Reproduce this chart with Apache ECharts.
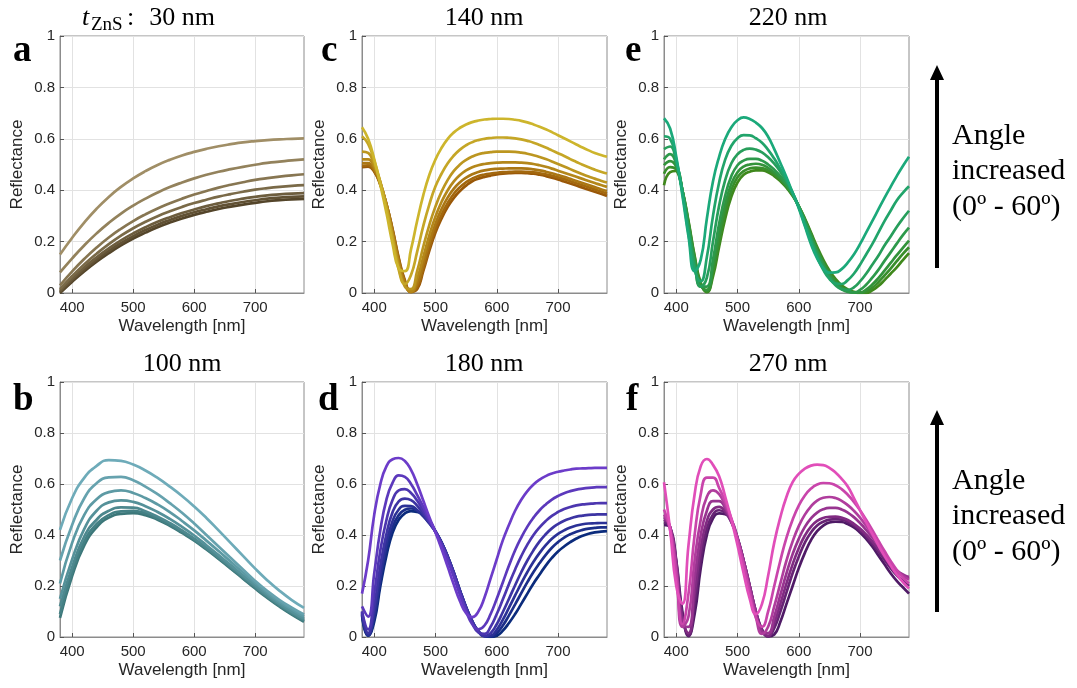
<!DOCTYPE html>
<html>
<head>
<meta charset="utf-8">
<script src="https://cdn.jsdelivr.net/npm/echarts@6/dist/echarts.min.js"></script>
<style>
html,body{margin:0;padding:0;background:#fff;}
#chart{width:1077px;height:688px;}
</style>
</head>
<body>
<div id="chart"></div>
<script>
// ---------- DATA ----------
const angles = ['0°','10°','20°','30°','40°','50°','60°'];
const wlCoarse = [380,400,420,440,460,480,500,520,540,560,580,600,620,640,660,680,700,720,740,760,780];
const wlFine = [380,390,400,410,420,430,440,450,460,470,480,490,500,510,520,530,540,550,560,570,580,590,600,610,620,630,640,650,660,670,680,690,700,710,720,730,740,750,760,770,780];
const xTickValues = [400,500,600,700];
const panelTitles = ['30 nm','100 nm','140 nm','180 nm','220 nm','270 nm'];
const panelLetters = ['a','b','c','d','e','f'];

// a: t = 30 nm (rows: 0°..60°) on wlCoarse
const refl30 = [
 [0.0,0.044,0.085,0.122,0.155,0.185,0.212,0.235,0.256,0.274,0.29,0.304,0.316,0.327,0.336,0.344,0.351,0.357,0.361,0.364,0.366],
 [0.004,0.05,0.092,0.13,0.164,0.194,0.221,0.245,0.266,0.284,0.3,0.314,0.326,0.337,0.346,0.354,0.361,0.367,0.371,0.374,0.376],
 [0.008,0.056,0.1,0.139,0.174,0.205,0.232,0.256,0.277,0.295,0.311,0.325,0.338,0.349,0.359,0.367,0.374,0.38,0.384,0.387,0.389],
 [0.015,0.066,0.112,0.153,0.19,0.223,0.252,0.277,0.299,0.318,0.335,0.35,0.363,0.375,0.385,0.394,0.402,0.408,0.413,0.417,0.42],
 [0.03,0.084,0.133,0.177,0.216,0.25,0.28,0.306,0.329,0.349,0.367,0.383,0.397,0.41,0.421,0.431,0.44,0.447,0.453,0.458,0.462],
 [0.08,0.135,0.186,0.232,0.273,0.309,0.34,0.367,0.391,0.412,0.43,0.446,0.46,0.472,0.482,0.491,0.499,0.506,0.511,0.516,0.52],
 [0.15,0.215,0.275,0.328,0.374,0.413,0.446,0.474,0.498,0.518,0.535,0.549,0.561,0.571,0.579,0.586,0.591,0.595,0.598,0.6,0.602]
];
// b: t = 100 nm on wlCoarse
const refl100 = [
 [0.075,0.24,0.36,0.43,0.468,0.483,0.486,0.478,0.46,0.436,0.408,0.378,0.343,0.306,0.268,0.229,0.19,0.153,0.119,0.088,0.06],
 [0.09,0.255,0.375,0.443,0.478,0.493,0.495,0.485,0.465,0.44,0.412,0.381,0.346,0.309,0.271,0.232,0.193,0.156,0.122,0.091,0.063],
 [0.12,0.275,0.395,0.46,0.495,0.508,0.507,0.493,0.472,0.447,0.418,0.386,0.35,0.313,0.275,0.236,0.197,0.16,0.126,0.095,0.067],
 [0.15,0.305,0.425,0.495,0.528,0.536,0.53,0.513,0.49,0.463,0.432,0.398,0.36,0.321,0.282,0.242,0.203,0.165,0.131,0.1,0.072],
 [0.21,0.37,0.48,0.54,0.568,0.575,0.565,0.545,0.52,0.49,0.455,0.418,0.378,0.337,0.295,0.253,0.212,0.173,0.138,0.108,0.08],
 [0.30,0.44,0.545,0.603,0.626,0.628,0.615,0.59,0.56,0.525,0.487,0.445,0.40,0.355,0.31,0.265,0.22,0.18,0.145,0.115,0.088],
 [0.42,0.545,0.625,0.671,0.694,0.691,0.676,0.653,0.624,0.59,0.553,0.512,0.467,0.418,0.368,0.318,0.268,0.222,0.181,0.145,0.114]
];
// c: t = 140 nm on wlFine
const refl140 = [
 [0.49,0.492,0.472,0.42,0.345,0.248,0.137,0.05,0.006,0.015,0.085,0.165,0.235,0.29,0.335,0.37,0.397,0.418,0.435,0.445,0.452,0.457,0.461,0.464,0.466,0.467,0.467,0.466,0.464,0.46,0.455,0.449,0.442,0.434,0.426,0.418,0.41,0.402,0.394,0.386,0.378],
 [0.495,0.497,0.475,0.422,0.345,0.245,0.132,0.045,0.004,0.022,0.095,0.178,0.25,0.305,0.35,0.386,0.412,0.431,0.445,0.455,0.461,0.465,0.468,0.47,0.471,0.472,0.472,0.471,0.469,0.466,0.462,0.456,0.45,0.443,0.435,0.427,0.419,0.411,0.403,0.395,0.387],
 [0.505,0.505,0.48,0.425,0.345,0.24,0.125,0.04,0.003,0.035,0.115,0.198,0.27,0.327,0.372,0.406,0.431,0.449,0.462,0.471,0.477,0.481,0.483,0.484,0.485,0.485,0.485,0.484,0.481,0.477,0.472,0.466,0.459,0.452,0.444,0.436,0.428,0.42,0.412,0.404,0.397],
 [0.52,0.52,0.49,0.43,0.34,0.23,0.115,0.03,0.005,0.055,0.14,0.225,0.298,0.355,0.4,0.434,0.459,0.477,0.489,0.497,0.502,0.505,0.507,0.508,0.508,0.508,0.507,0.505,0.502,0.497,0.491,0.484,0.476,0.468,0.46,0.452,0.444,0.436,0.428,0.42,0.413],
 [0.55,0.545,0.50,0.43,0.335,0.22,0.10,0.025,0.015,0.085,0.18,0.265,0.337,0.395,0.44,0.475,0.5,0.518,0.531,0.54,0.545,0.548,0.55,0.55,0.55,0.549,0.546,0.542,0.536,0.529,0.521,0.512,0.502,0.492,0.482,0.472,0.462,0.453,0.445,0.437,0.43],
 [0.61,0.58,0.515,0.43,0.33,0.21,0.09,0.035,0.07,0.16,0.26,0.345,0.415,0.465,0.505,0.535,0.558,0.575,0.587,0.595,0.6,0.603,0.605,0.605,0.604,0.602,0.598,0.592,0.585,0.576,0.566,0.555,0.544,0.533,0.521,0.51,0.499,0.489,0.48,0.472,0.465],
 [0.645,0.6,0.52,0.42,0.31,0.19,0.095,0.085,0.17,0.28,0.38,0.46,0.52,0.565,0.6,0.625,0.643,0.656,0.665,0.671,0.675,0.677,0.678,0.678,0.677,0.674,0.67,0.664,0.656,0.647,0.637,0.626,0.614,0.602,0.59,0.578,0.566,0.555,0.545,0.537,0.53]
];
// d: t = 180 nm on wlFine
const refl180 = [
 [0.085,0.005,0.06,0.2,0.32,0.41,0.46,0.485,0.494,0.49,0.482,0.458,0.415,0.37,0.315,0.25,0.18,0.115,0.06,0.022,0.004,0.0,0.005,0.025,0.055,0.09,0.13,0.17,0.21,0.245,0.28,0.31,0.335,0.355,0.372,0.386,0.397,0.405,0.41,0.413,0.415],
 [0.09,0.006,0.075,0.22,0.345,0.43,0.478,0.499,0.504,0.495,0.474,0.447,0.414,0.37,0.316,0.252,0.182,0.117,0.062,0.023,0.004,0.001,0.015,0.045,0.085,0.128,0.172,0.215,0.255,0.29,0.322,0.35,0.372,0.39,0.403,0.413,0.42,0.425,0.428,0.43,0.43],
 [0.095,0.008,0.09,0.24,0.37,0.455,0.5,0.514,0.513,0.498,0.474,0.445,0.413,0.369,0.315,0.252,0.182,0.117,0.062,0.023,0.003,0.005,0.028,0.068,0.115,0.163,0.21,0.255,0.295,0.33,0.36,0.385,0.404,0.418,0.429,0.437,0.442,0.445,0.446,0.447,0.447],
 [0.1,0.015,0.12,0.28,0.405,0.49,0.532,0.543,0.537,0.515,0.483,0.448,0.413,0.368,0.313,0.25,0.18,0.115,0.06,0.02,0.003,0.015,0.05,0.098,0.15,0.203,0.254,0.3,0.34,0.375,0.403,0.426,0.443,0.456,0.465,0.472,0.476,0.479,0.48,0.481,0.481],
 [0.1,0.03,0.17,0.34,0.46,0.538,0.575,0.58,0.565,0.535,0.495,0.453,0.412,0.365,0.31,0.245,0.175,0.11,0.055,0.018,0.012,0.04,0.09,0.148,0.208,0.265,0.317,0.362,0.4,0.43,0.455,0.475,0.49,0.502,0.51,0.516,0.52,0.522,0.524,0.525,0.525],
 [0.12,0.08,0.25,0.42,0.54,0.605,0.634,0.628,0.6,0.557,0.51,0.46,0.412,0.36,0.3,0.235,0.165,0.1,0.05,0.03,0.045,0.09,0.15,0.215,0.28,0.34,0.39,0.433,0.468,0.497,0.52,0.539,0.553,0.564,0.572,0.578,0.582,0.585,0.587,0.588,0.588],
 [0.17,0.3,0.48,0.6,0.67,0.697,0.702,0.69,0.655,0.6,0.535,0.47,0.41,0.345,0.275,0.205,0.14,0.093,0.078,0.1,0.155,0.23,0.305,0.38,0.44,0.495,0.538,0.572,0.598,0.617,0.631,0.641,0.648,0.653,0.657,0.66,0.661,0.662,0.663,0.663,0.663]
];
// e: t = 220 nm on wlFine
const refl220 = [
 [0.419,0.47,0.475,0.4,0.28,0.145,0.04,0.003,0.065,0.18,0.29,0.375,0.43,0.46,0.472,0.477,0.477,0.47,0.455,0.435,0.41,0.378,0.338,0.29,0.235,0.18,0.13,0.088,0.055,0.03,0.014,0.005,0.001,0.0,0.01,0.027,0.05,0.075,0.1,0.128,0.155],
 [0.464,0.49,0.48,0.4,0.275,0.14,0.035,0.006,0.08,0.2,0.315,0.4,0.45,0.474,0.485,0.488,0.486,0.477,0.461,0.44,0.413,0.38,0.338,0.287,0.23,0.172,0.122,0.08,0.048,0.025,0.01,0.003,0.0,0.005,0.02,0.042,0.068,0.095,0.124,0.152,0.178],
 [0.497,0.513,0.49,0.4,0.27,0.13,0.03,0.012,0.1,0.23,0.345,0.425,0.47,0.492,0.5,0.503,0.499,0.487,0.469,0.446,0.417,0.382,0.337,0.283,0.225,0.167,0.117,0.075,0.043,0.02,0.007,0.001,0.001,0.013,0.033,0.058,0.087,0.117,0.147,0.176,0.204],
 [0.52,0.54,0.5,0.4,0.26,0.12,0.025,0.025,0.13,0.27,0.38,0.455,0.497,0.515,0.522,0.522,0.515,0.5,0.48,0.455,0.423,0.385,0.335,0.28,0.22,0.16,0.11,0.067,0.035,0.014,0.004,0.002,0.012,0.032,0.06,0.09,0.125,0.158,0.192,0.225,0.254],
 [0.56,0.57,0.51,0.4,0.25,0.11,0.025,0.06,0.2,0.34,0.44,0.505,0.54,0.557,0.562,0.558,0.547,0.528,0.503,0.472,0.435,0.39,0.335,0.275,0.21,0.15,0.1,0.06,0.03,0.015,0.012,0.022,0.045,0.075,0.11,0.145,0.185,0.22,0.257,0.29,0.32],
 [0.61,0.6,0.52,0.39,0.23,0.09,0.045,0.14,0.3,0.43,0.52,0.573,0.602,0.614,0.613,0.602,0.585,0.557,0.523,0.483,0.44,0.39,0.335,0.265,0.2,0.14,0.09,0.055,0.037,0.035,0.05,0.075,0.11,0.15,0.19,0.235,0.28,0.32,0.36,0.39,0.415],
 [0.68,0.64,0.53,0.38,0.22,0.085,0.13,0.29,0.435,0.53,0.6,0.645,0.672,0.683,0.677,0.663,0.642,0.608,0.56,0.506,0.45,0.39,0.33,0.26,0.19,0.135,0.097,0.079,0.08,0.093,0.118,0.15,0.19,0.235,0.28,0.325,0.37,0.413,0.455,0.494,0.53]
];
// f: t = 270 nm on wlFine
const refl270 = [
 [0.44,0.43,0.3,0.1,0.003,0.09,0.27,0.4,0.465,0.485,0.482,0.458,0.39,0.3,0.2,0.1,0.03,0.002,0.01,0.06,0.13,0.2,0.27,0.33,0.38,0.415,0.437,0.449,0.452,0.451,0.443,0.43,0.41,0.385,0.355,0.32,0.285,0.25,0.22,0.195,0.17],
 [0.45,0.43,0.295,0.085,0.006,0.13,0.31,0.425,0.48,0.497,0.487,0.45,0.388,0.3,0.2,0.1,0.027,0.002,0.035,0.1,0.175,0.25,0.315,0.37,0.41,0.437,0.452,0.46,0.462,0.46,0.452,0.438,0.418,0.394,0.366,0.335,0.302,0.27,0.242,0.22,0.2],
 [0.46,0.43,0.29,0.07,0.015,0.17,0.35,0.455,0.5,0.51,0.493,0.452,0.386,0.3,0.2,0.1,0.025,0.005,0.055,0.13,0.21,0.285,0.348,0.398,0.433,0.455,0.467,0.471,0.472,0.468,0.459,0.444,0.425,0.402,0.375,0.345,0.313,0.283,0.257,0.24,0.23],
 [0.47,0.43,0.28,0.05,0.04,0.23,0.4,0.495,0.533,0.533,0.505,0.455,0.385,0.295,0.195,0.095,0.02,0.015,0.08,0.165,0.25,0.325,0.385,0.432,0.465,0.488,0.501,0.506,0.506,0.5,0.488,0.47,0.447,0.42,0.39,0.357,0.322,0.29,0.262,0.245,0.235],
 [0.48,0.43,0.26,0.04,0.08,0.3,0.46,0.55,0.575,0.56,0.515,0.46,0.385,0.29,0.185,0.08,0.012,0.04,0.12,0.21,0.3,0.375,0.435,0.48,0.512,0.535,0.546,0.549,0.545,0.534,0.517,0.495,0.468,0.436,0.4,0.362,0.325,0.29,0.26,0.24,0.225],
 [0.5,0.42,0.24,0.05,0.17,0.4,0.56,0.625,0.625,0.585,0.53,0.465,0.38,0.28,0.17,0.075,0.04,0.1,0.2,0.3,0.39,0.46,0.515,0.555,0.582,0.598,0.604,0.603,0.595,0.58,0.558,0.53,0.497,0.46,0.42,0.378,0.337,0.298,0.263,0.233,0.21],
 [0.607,0.42,0.2,0.13,0.36,0.56,0.67,0.698,0.675,0.63,0.55,0.46,0.36,0.25,0.15,0.09,0.13,0.24,0.37,0.47,0.55,0.607,0.64,0.66,0.672,0.676,0.674,0.663,0.645,0.62,0.59,0.545,0.497,0.45,0.405,0.36,0.318,0.28,0.245,0.215,0.19]
];

// ---------- STYLE / LAYOUT ----------
const panels = [
  {refl: refl30,  wl: wlCoarse, dark:'#54452a', light:'#a08e66', left:60,  top:36,  w:244, h:257},
  {refl: refl100, wl: wlCoarse, dark:'#3c7779', light:'#6eabb9', left:60,  top:382, w:244, h:255},
  {refl: refl140, wl: wlFine,   dark:'#9a5808', light:'#cdb52c', left:362, top:36,  w:245, h:257},
  {refl: refl180, wl: wlFine,   dark:'#0b2b7c', light:'#6c3cc9', left:362, top:382, w:245, h:255},
  {refl: refl220, wl: wlFine,   dark:'#3f881c', light:'#1ba97a', left:664, top:36,  w:245, h:257},
  {refl: refl270, wl: wlFine,   dark:'#4f1a66', light:'#e14eb9', left:664, top:382, w:245, h:255}
];
function hex2rgb(h){return [1,3,5].map(i=>parseInt(h.substr(i,2),16));}
function mix(a,b,t){const A=hex2rgb(a),B=hex2rgb(b);return 'rgb('+A.map((v,i)=>Math.round(v+(B[i]-v)*t)).join(',')+')';}

const SANS = "'Liberation Sans', Arial, sans-serif";
const SERIF = "'Liberation Serif', 'Times New Roman', serif";
const TXT = '#262626';

const grid=[], xAxis=[], yAxis=[], series=[];
panels.forEach((p,pi)=>{
  grid.push({left:p.left, top:p.top, width:p.w, height:p.h, show:true, borderColor:'#8c8c8c', borderWidth:1, backgroundColor:'#fff'});
  xAxis.push({
    type:'value', gridIndex:pi, min:380, max:780,
    axisLine:{show:true, lineStyle:{color:'#8c8c8c'}},
    axisTick:{show:true, inside:true, length:4, customValues:xTickValues, lineStyle:{color:'#555'}},
    axisLabel:{customValues:xTickValues, fontSize:15, color:TXT, fontFamily:SANS, margin:7},
    splitLine:{show:true, lineStyle:{color:'#e2e2e2', width:1}},
    name:'Wavelength [nm]', nameLocation:'middle', nameGap:25,
    nameTextStyle:{fontSize:17, color:TXT, fontFamily:SANS}
  });
  yAxis.push({
    type:'value', gridIndex:pi, min:0, max:1, interval:0.2,
    axisLine:{show:true, lineStyle:{color:'#8c8c8c'}},
    axisTick:{show:true, inside:true, length:4, lineStyle:{color:'#555'}},
    axisLabel:{fontSize:15, color:TXT, fontFamily:SANS, margin:5},
    splitLine:{show:true, lineStyle:{color:'#e2e2e2', width:1}},
    name:'Reflectance', nameLocation:'middle', nameGap:34, nameRotate:90,
    nameTextStyle:{fontSize:17, color:TXT, fontFamily:SANS}
  });
  p.refl.forEach((row,ai)=>{
    series.push({
      type:'line', name:panelTitles[pi]+' '+angles[ai], xAxisIndex:pi, yAxisIndex:pi,
      data: p.wl.map((w,k)=>[w,row[k]]),
      showSymbol:false, smooth:0.5, clip:true,
      lineStyle:{width:2.7, color:mix(p.dark,p.light,ai/6)},
      z: 2+ai, animation:false, silent:true
    });
  });
});

// ---------- ANNOTATIONS ----------
const graphic = [];
const letterPos = [[13,63],[13,412],[321,63],[318,412],[625,63],[626,412]];
panelLetters.forEach((L,i)=>{
  graphic.push({type:'text', left:letterPos[i][0], top:letterPos[i][1]-30,
    style:{text:L, font:"bold 37px "+SERIF, fill:'#000'}});
});
const titleCenters = [[182,18],[182,364],[484,18],[484,364],[788,18],[788,364]];
panelTitles.forEach((t,i)=>{
  graphic.push({type:'text', x:titleCenters[i][0], y:titleCenters[i][1],
    style:{text:t, font:"26px "+SERIF, fill:'#000', align:'center', verticalAlign:'middle'}});
});
graphic.push({type:'text', x:82, y:18, style:{text:'t', font:"italic 26px "+SERIF, fill:'#000', align:'left', verticalAlign:'middle'}});
graphic.push({type:'text', x:91, y:25, style:{text:'ZnS', font:"19px "+SERIF, fill:'#000', align:'left', verticalAlign:'middle'}});
graphic.push({type:'text', x:127, y:18, style:{text:':', font:"26px "+SERIF, fill:'#000', align:'left', verticalAlign:'middle'}});
[[65,268,0],[410,612,345]].forEach(([y0,y1,off])=>{
  graphic.push({type:'line', shape:{x1:937,y1:y1,x2:937,y2:y0+12}, style:{stroke:'#000', lineWidth:4}});
  graphic.push({type:'polygon', shape:{points:[[937,y0],[930,y0+15],[944,y0+15]]}, style:{fill:'#000'}});
  ['Angle','increased','(0º - 60º)'].forEach((s,k)=>{
    graphic.push({type:'text', x:952, y:136+off+k*35.5, style:{text:s, font:"30px "+SERIF, fill:'#000', align:'left', verticalAlign:'middle'}});
  });
});

const chart = echarts.init(document.getElementById('chart'), null, {renderer:'canvas'});
chart.setOption({animation:false, backgroundColor:'#fff', grid, xAxis, yAxis, series, graphic});
</script>
</body>
</html>
